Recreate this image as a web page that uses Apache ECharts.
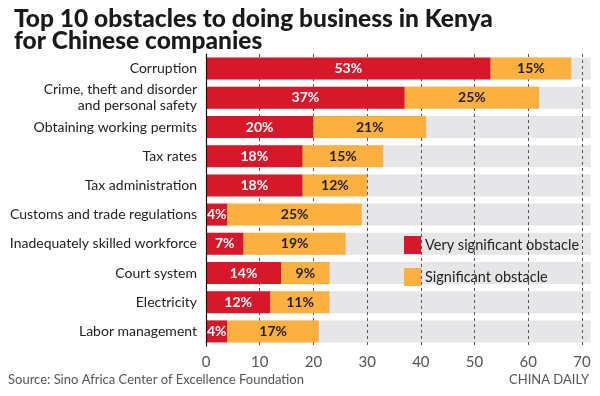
<!DOCTYPE html>
<html>
<head>
<meta charset="utf-8">
<script src="https://cdn.jsdelivr.net/npm/echarts@6/dist/echarts.min.js"></script>
<style>
  html, body { margin: 0; padding: 0; background: #fff; }
  #main { width: 600px; height: 396px; }
</style>
</head>
<body>
<div id="main"></div>
<script>
var categories = ['Corruption', 'Crime, theft and disorder\nand personal safety', 'Obtaining working permits',
  'Tax rates', 'Tax administration', 'Customs and trade regulations', 'Inadequately skilled workforce',
  'Court system', 'Electricity', 'Labor management'];
var verySignificant = [53, 37, 20, 18, 18, 4, 7, 14, 12, 4];
var significant = [15, 25, 21, 15, 12, 25, 19, 9, 11, 17];
var trackMax = 71.6;

var chartDom = document.getElementById('main');
var myChart = echarts.init(chartDom);
var font = 'Lato, "Noto Sans", sans-serif';

var option = {
  animation: false,
  textStyle: { fontFamily: font },
  title: {
    text: 'Top 10 obstacles to doing business in Kenya\nfor Chinese companies',
    left: 9,
    top: 3,
    textStyle: { fontSize: 24.5, fontWeight: 900, color: '#1a1a1a', lineHeight: 22, fontFamily: font }
  },
  legend: {
    data: ['Very significant obstacle', 'Significant obstacle'],
    orient: 'vertical',
    left: 399,
    top: 231,
    itemWidth: 17,
    itemHeight: 18,
    itemGap: 14,
    icon: 'rect',
    textStyle: { fontSize: 14.5, color: '#222', fontFamily: font, padding: [0, 0, 0, -1] }
  },
  grid: { left: 206, right: 18, top: 54, bottom: 50 },
  xAxis: {
    type: 'value',
    min: 0,
    max: 70,
    interval: 10,
    z: 1,
    axisLine: { show: false },
    axisTick: { show: false },
    axisLabel: { color: '#555', fontSize: 15, margin: 9 },
    splitLine: { show: true, lineStyle: { color: '#555', type: [3, 3], width: 1 } }
  },
  yAxis: {
    type: 'category',
    data: categories,
    inverse: true,
    z: 3,
    axisLine: { show: true, lineStyle: { color: '#111', width: 1.2 } },
    axisTick: { show: false },
    axisLabel: { color: '#222', fontSize: 14, margin: 9, lineHeight: 16 }
  },
  graphic: [
    { type: 'text', left: 8, top: 373, style: { text: 'Source: Sino Africa Center of Excellence Foundation', fill: '#555', font: '13px ' + font } },
    { type: 'text', right: 11, top: 373, style: { text: 'CHINA DAILY', fill: '#555', font: '13px ' + font } }
  ],
  series: [
    {
      name: 'track',
      type: 'bar',
      z: 0,
      clip: false,
      barWidth: 22,
      barGap: '-100%',
      silent: true,
      itemStyle: { color: '#e6e6e8' },
      data: categories.map(function () { return trackMax; })
    },
    {
      name: 'Very significant obstacle',
      type: 'bar',
      stack: 'all',
      z: 2,
      barWidth: 22,
      itemStyle: { color: '#d7182a' },
      label: { show: true, position: 'inside', formatter: '{c}%', color: '#fff', fontSize: 14, fontWeight: 'bold', fontFamily: font },
      data: verySignificant
    },
    {
      name: 'Significant obstacle',
      type: 'bar',
      stack: 'all',
      z: 2,
      barWidth: 22,
      itemStyle: { color: '#fbb040' },
      label: { show: true, position: 'inside', formatter: '{c}%', color: '#231f20', fontSize: 14, fontWeight: 'bold', fontFamily: font },
      data: significant
    }
  ]
};
option && myChart.setOption(option);
</script>
</body>
</html>
